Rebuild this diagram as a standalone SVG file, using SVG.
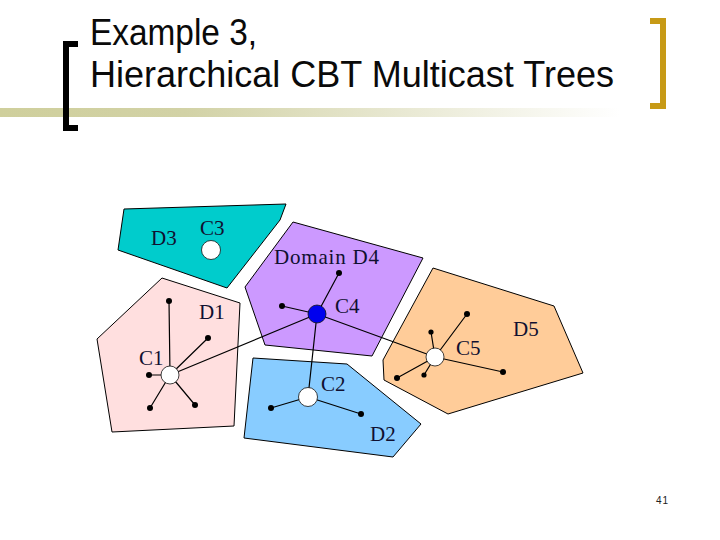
<svg xmlns="http://www.w3.org/2000/svg" width="720" height="540" viewBox="0 0 720 540">
<style>
.t{font-family:"Liberation Sans",Arial,sans-serif;font-size:36px;fill:#0a0a0a}
.l{font-family:"Liberation Serif","Times New Roman",serif;font-size:21px;fill:#101030}
.d{stroke:#000;stroke-width:1;stroke-linejoin:round}
.e{stroke:#000;stroke-width:1.2;fill:none}
.n{fill:#fff;stroke:#111;stroke-width:.8}
.p{fill:#000}
</style>
<defs><linearGradient id="g" x1="0" x2="1" y1="0" y2="0"><stop offset="0" stop-color="#cfcf9c"/><stop offset=".3" stop-color="#d2d2a6"/><stop offset="1" stop-color="#fff"/></linearGradient></defs>
<rect width="720" height="540" fill="#fff"/>
<rect x="0" y="108" width="620" height="9" fill="url(#g)"/>
<path d="M78 44H66V128H78" fill="none" stroke="#000" stroke-width="6"/>
<path d="M650 21H663V106H650" fill="none" stroke="#c79a16" stroke-width="6"/>
<text class="t" x="90" y="45" textLength="167" lengthAdjust="spacingAndGlyphs">Example 3,</text>
<text class="t" x="90" y="87" textLength="524" lengthAdjust="spacingAndGlyphs">Hierarchical CBT Multicast Trees</text>
<polygon id="d3" class="d" fill="#00cccc" points="124,209 286,204 280,220 227,288 118,250"/>
<polygon id="d1" class="d" fill="#ffdfdf" points="162,278 240,303 234,426 112,432 97,339"/>
<polygon id="d4" class="d" fill="#cc99ff" points="293,222 423,258 372,356 265,345 245,287"/>
<polygon id="d5" class="d" fill="#ffcc99" points="433,268 554,306 583,373 448,414 384,380 383,360"/>
<polygon id="d2" class="d" fill="#88ccff" points="253,358 347,364 421,424 393,457 244,438"/>
<g id="connectors">
<path class="e" d="M170 375 169 301M170 375 208 338M170 375H149M170 375 150 408M170 375 195 405M170 375 317 314M317 314 339 273M317 314 282 306M317 314 435 357M317 314 308 397M308 397 271 408M308 397 361 414M435 357 467 314M435 357 431 332M435 357 397 378M435 357 424 375M435 357 503 372"/>
</g>
<g id="leaves">
<circle class="p" cx="169" cy="301" r="3"/><circle class="p" cx="208" cy="338" r="3"/><circle class="p" cx="149" cy="375" r="3"/><circle class="p" cx="150" cy="408" r="3"/><circle class="p" cx="195" cy="405" r="3"/>
<circle class="p" cx="339" cy="273" r="3"/><circle class="p" cx="282" cy="306" r="3"/>
<circle class="p" cx="271" cy="408" r="3"/><circle class="p" cx="361" cy="414" r="3"/>
<circle class="p" cx="467" cy="314" r="3"/><circle class="p" cx="431" cy="332" r="2.6"/><circle class="p" cx="397" cy="378" r="3"/><circle class="p" cx="424" cy="375" r="2.6"/><circle class="p" cx="503" cy="372" r="3"/>
</g>
<g id="c3"><circle class="n" cx="211" cy="250" r="9.5"/><text class="l" x="200" y="235">C3</text></g>
<g id="c1"><circle class="n" cx="170" cy="375" r="9"/><text class="l" x="139" y="365">C1</text></g>
<g id="c4"><circle cx="317" cy="314" r="9" fill="#0000ee" stroke="#111" stroke-width=".8"/><text class="l" x="335" y="313">C4</text></g>
<g id="c2"><circle class="n" cx="308" cy="397" r="9.5"/><text class="l" x="321" y="391">C2</text></g>
<g id="c5"><circle class="n" cx="435" cy="357" r="9"/><text class="l" x="456" y="355">C5</text></g>
<text class="l" x="151" y="245">D3</text>
<text class="l" x="199" y="319">D1</text>
<text class="l" x="274" y="264" textLength="105">Domain D4</text>
<text class="l" x="513" y="336">D5</text>
<text class="l" x="370" y="441">D2</text>
<text x="656" y="504" font-family="Liberation Sans,Arial,sans-serif" font-size="10" letter-spacing="1" fill="#222">41</text>
</svg>
